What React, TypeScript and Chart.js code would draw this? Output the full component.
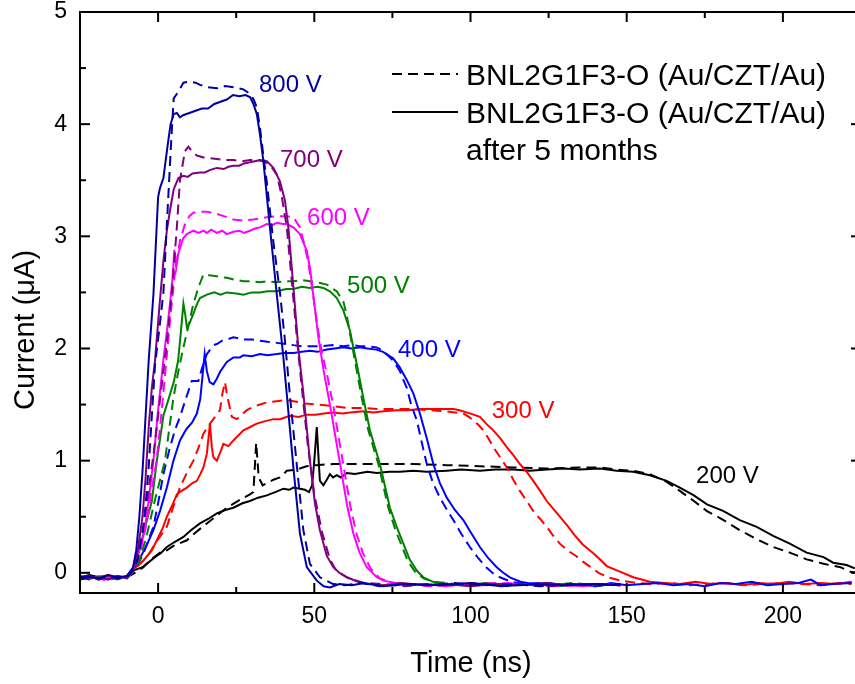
import React, { useEffect, useRef } from "react";
import { Chart, registerables } from "chart.js";

Chart.register(...registerables);

const FONT = "'Liberation Sans', Arial, Helvetica, sans-serif";

// axis ranges and ticks
const xRange = [-25, 225];
const yRange = [-0.18, 5];
const xTicks = [0, 50, 100, 150, 200];
const xMinor = [25, 75, 125, 175];
const yTicks = [0, 1, 2, 3, 4, 5];
const yMinor = [0.5, 1.5, 2.5, 3.5, 4.5];

const xTitle = "Time (ns)";
const yTitle = "Current (\u03bcA)";
const legendDashed = "BNL2G1F3-O (Au/CZT/Au)";
const legendSolid = ["BNL2G1F3-O (Au/CZT/Au)", "after 5 months"];

type P = [number, number][];

// 800 V
const s800: P = [[-25,-0.04],[-22,-0.03],[-19,-0.05],[-16,-0.02],[-13,-0.04],[-10,-0.03],[-8,0.05],[-7,0.2],[-6,0.5],[-5,0.9],[-4,1.4],[-3,1.9],[-1.5,2.48],[0,3.35],[0.6,3.43],[1.7,3.52],[3,3.8],[4,4.0],[5,4.09],[6,4.1],[7,4.06],[8,4.08],[10,4.1],[12,4.12],[14,4.14],[16,4.14],[18,4.18],[20,4.2],[22,4.22],[24,4.26],[26,4.25],[28,4.26],[29.5,4.24],[30.5,4.18],[31.6,4.09],[32.6,3.91],[33.7,3.67],[35.8,3.08],[38,2.48],[40,1.95],[41.5,1.5],[43.3,0.94],[45.4,0.35],[47.6,0.05],[50.8,-0.07],[53,-0.12],[55,-0.13],[58,-0.1],[62,-0.11],[66,-0.09],[72,-0.12],[80,-0.1],[90,-0.11],[100,-0.09],[110,-0.12],[120,-0.1],[130,-0.11],[140,-0.1],[148,-0.11]];
const d800: P = [[-25,-0.06],[-22,-0.04],[-19,-0.05],[-16,-0.03],[-13,-0.05],[-10,-0.04],[-8,0.02],[-6.5,0.12],[-5,0.35],[-4,0.6],[-3,0.95],[-2,1.4],[-1,1.85],[0.5,2.2],[1.7,2.5],[2.6,3.0],[3.3,3.37],[4,3.75],[4.5,4.0],[5,4.23],[6.5,4.29],[8.1,4.37],[10,4.38],[12,4.37],[13.4,4.35],[16,4.33],[18.8,4.32],[21.5,4.34],[24.1,4.33],[27.3,4.31],[29.4,4.27],[30.6,4.22],[31.6,4.15],[32.6,3.97],[33.7,3.72],[34.8,3.48],[36.9,2.95],[39,2.5],[40.5,2.1],[42.2,1.58],[44.4,0.96],[46.5,0.38],[48.6,0.08],[51.8,-0.04],[56,-0.1],[60,-0.11],[65,-0.09],[71,-0.12],[78,-0.1],[86,-0.11],[95,-0.09],[104,-0.11],[113,-0.1],[122,-0.12],[131,-0.1],[140,-0.11],[148,-0.1]];

// 700 V
const s700: P = [[-25,-0.03],[-22,-0.05],[-19,-0.04],[-16,-0.06],[-13,-0.03],[-10,-0.05],[-8,0.04],[-6.5,0.2],[-5,0.5],[-4,0.85],[-3,1.3],[-2,1.65],[-1,1.89],[0.5,2.4],[1.7,2.78],[2.8,3.05],[3.8,3.23],[5,3.42],[6.5,3.52],[8.1,3.54],[9.5,3.53],[11,3.56],[13.4,3.57],[15,3.57],[16.5,3.59],[18.8,3.61],[21,3.6],[22.5,3.62],[24.1,3.63],[26,3.63],[27.5,3.65],[29.4,3.66],[31,3.67],[32.6,3.68],[34.8,3.67],[36.9,3.61],[39,3.49],[40.6,3.32],[41.7,3.08],[43.3,2.55],[44.9,2.0],[46.5,1.6],[48.6,1.0],[50.2,0.62],[51.8,0.38],[54,0.15],[56.1,0.05],[58,0.0],[60.4,-0.04],[64,-0.08],[67,-0.1],[72,-0.11],[78,-0.09],[85,-0.11],[92,-0.1],[100,-0.12],[108,-0.1],[116,-0.11],[124,-0.09],[132,-0.11],[140,-0.1],[148,-0.11]];
const d700: P = [[-25,-0.05],[-22,-0.03],[-19,-0.06],[-16,-0.04],[-13,-0.05],[-10,-0.03],[-8,0.02],[-6,0.2],[-4.5,0.45],[-3,0.75],[-1.5,1.05],[0,1.4],[1.5,1.75],[2.8,2.05],[4.4,2.5],[6,3.08],[7,3.5],[8.6,3.76],[9.7,3.8],[11,3.75],[12.4,3.72],[15,3.7],[18.8,3.69],[21.5,3.68],[24.1,3.68],[27,3.67],[29.4,3.68],[31.5,3.68],[33.7,3.67],[35.8,3.64],[38,3.55],[39.5,3.37],[41.2,3.08],[42.7,2.63],[44.4,2.1],[46,1.65],[48,1.12],[50,0.7],[52.5,0.36],[55,0.12],[57,0.02],[61,-0.05],[66,-0.09],[72,-0.1],[79,-0.12],[86,-0.1],[94,-0.11],[102,-0.09],[110,-0.11],[118,-0.1],[126,-0.12],[134,-0.1],[142,-0.11],[148,-0.1]];

// 600 V
const s600: P = [[-25,-0.05],[-22,-0.03],[-19,-0.06],[-16,-0.04],[-13,-0.05],[-10,-0.03],[-8,0.03],[-6,0.2],[-4.5,0.35],[-3,0.65],[-1.5,1.0],[0,1.45],[1.7,1.9],[3,2.2],[4,2.45],[4.6,2.62],[5.2,2.88],[5.8,2.72],[6.5,2.85],[8,2.98],[9.2,3.02],[11.3,3.05],[13,3.03],[14.5,3.05],[15.6,3.03],[17,3.06],[18.8,3.03],[20.5,3.05],[22,3.02],[24.1,3.04],[26,3.05],[27.5,3.03],[29.4,3.05],[31,3.07],[32.6,3.08],[34.8,3.11],[36.5,3.1],[38,3.12],[40,3.11],[41.2,3.11],[43.3,3.08],[45.4,3.02],[47.6,2.87],[48.6,2.72],[50,2.4],[51.3,2.1],[53,1.8],[55,1.5],[58.2,0.98],[60.5,0.6],[62.5,0.35],[64.5,0.18],[66.8,0.05],[70,-0.04],[72.1,-0.07],[76,-0.09],[80,-0.11],[86,-0.1],[92,-0.12],[98,-0.1],[105,-0.11],[112,-0.09],[120,-0.11],[128,-0.1],[136,-0.12],[142,-0.1],[148,-0.11]];
const d600: P = [[-25,-0.06],[-22,-0.04],[-19,-0.05],[-16,-0.07],[-13,-0.04],[-10,-0.05],[-8,0.02],[-6,0.15],[-4,0.4],[-2,0.75],[-0.5,1.0],[1,1.4],[2.5,1.85],[4,2.3],[5.5,2.7],[7,2.96],[8.5,3.1],[10,3.18],[11.3,3.21],[13.5,3.22],[15.6,3.22],[18.8,3.2],[21,3.18],[24.1,3.15],[27.3,3.14],[30.5,3.15],[34.8,3.17],[38,3.18],[41.2,3.18],[43.3,3.17],[45.4,3.08],[46.5,2.96],[48,2.78],[49.5,2.5],[51,2.2],[52.5,1.95],[54,1.78],[56,1.5],[59.2,0.98],[61.5,0.6],[63.5,0.35],[65.5,0.18],[68,0.04],[71,-0.05],[75,-0.09],[80,-0.1],[87,-0.12],[94,-0.1],[101,-0.11],[108,-0.09],[115,-0.11],[122,-0.1],[130,-0.12],[138,-0.1],[148,-0.11]];

// 500 V
const s500: P = [[-25,-0.03],[-22,-0.05],[-19,-0.03],[-16,-0.04],[-13,-0.06],[-10,-0.03],[-8,0.04],[-6,0.2],[-4.7,0.35],[-2,0.64],[-0.4,1.0],[1.7,1.4],[3.8,1.59],[5,1.7],[6.4,1.89],[7.3,2.15],[8.1,2.4],[8.7,2.3],[9.2,2.19],[10,2.22],[11.3,2.31],[12.5,2.4],[13.4,2.45],[15.6,2.48],[18,2.5],[20,2.48],[22,2.5],[25,2.49],[27.3,2.48],[30,2.5],[32.6,2.5],[35,2.51],[38,2.51],[41,2.53],[43.3,2.53],[46,2.55],[48.6,2.54],[51,2.55],[52.9,2.54],[55,2.51],[57.2,2.45],[59.3,2.34],[61.4,2.16],[63.6,1.86],[65.7,1.56],[67.8,1.27],[71,0.97],[74.2,0.58],[76.5,0.4],[78.5,0.26],[80.5,0.12],[82.8,0.02],[84.9,-0.04],[88,-0.08],[92,-0.1],[98,-0.11],[105,-0.09],[112,-0.11],[120,-0.1],[128,-0.12],[136,-0.1],[142,-0.11],[148,-0.1]];
const d500: P = [[-25,-0.04],[-22,-0.03],[-19,-0.05],[-16,-0.03],[-13,-0.04],[-10,-0.05],[-8,0.02],[-6,0.1],[-3.5,0.35],[-1,0.65],[2.2,1.0],[4.9,1.56],[6.5,1.8],[8.1,2.01],[9.7,2.2],[11.3,2.4],[13,2.55],[14.5,2.66],[17,2.65],[19.5,2.64],[22,2.63],[25,2.61],[27.3,2.6],[30,2.6],[32.6,2.59],[35,2.6],[38,2.59],[41,2.6],[43.3,2.6],[46,2.61],[48.6,2.6],[51,2.59],[54,2.57],[56,2.53],[57.2,2.51],[58.5,2.45],[59.3,2.42],[60.5,2.28],[61.4,2.14],[63.2,1.86],[65.2,1.56],[67.3,1.27],[70.5,0.97],[73.7,0.58],[76,0.38],[78,0.24],[80,0.1],[82.5,0.0],[85,-0.05],[88,-0.08],[92,-0.09],[98,-0.11],[105,-0.1],[112,-0.12],[119,-0.1],[126,-0.11],[133,-0.09],[140,-0.11],[148,-0.1]];

// 400 V
const s400: P = [[-25,-0.05],[-22,-0.03],[-19,-0.04],[-16,-0.06],[-13,-0.03],[-10,-0.04],[-8,0.03],[-6,0.12],[-3.6,0.25],[-1.5,0.38],[0.6,0.55],[2.8,0.76],[4.9,1.0],[7,1.18],[9,1.28],[10.9,1.34],[12.4,1.42],[13.5,1.55],[14.2,1.75],[14.9,1.95],[15.6,1.8],[16.5,1.7],[17.7,1.68],[18.8,1.73],[19.8,1.79],[21,1.84],[22,1.88],[24.1,1.92],[26.2,1.92],[27.3,1.94],[30,1.93],[32.6,1.95],[35,1.94],[38,1.95],[40.5,1.96],[43.3,1.96],[46,1.97],[48.6,1.98],[51,1.97],[54,1.99],[56.5,2.0],[59.3,2.01],[62,2.0],[64.6,2.01],[67,2.0],[69.9,1.99],[72,1.97],[73.1,1.95],[75.3,1.91],[77.4,1.83],[79.6,1.72],[81.7,1.6],[83.8,1.42],[86,1.2],[88.1,0.97],[90.2,0.8],[92.4,0.67],[95,0.56],[97.7,0.47],[100.3,0.35],[103,0.23],[105.7,0.13],[108.4,0.05],[110.5,0.0],[112.6,-0.04],[116,-0.08],[120,-0.1],[125,-0.09],[130,-0.11],[135,-0.1],[140,-0.12],[145,-0.09],[150,-0.11],[155,-0.1],[160,-0.09],[165,-0.11],[170,-0.1],[175,-0.12],[180,-0.09],[185,-0.1],[190,-0.08],[195,-0.11],[200,-0.1],[205,-0.09],[209,-0.06],[212,-0.11],[216,-0.1],[222,-0.09]];
const d400: P = [[-25,-0.04],[-22,-0.06],[-19,-0.04],[-16,-0.05],[-13,-0.03],[-10,-0.05],[-8,0.02],[-6,0.1],[-4.7,0.17],[-3,0.3],[-1.5,0.41],[0,0.62],[1.7,0.88],[3.8,1.12],[5.5,1.28],[7,1.39],[8.5,1.52],[9.7,1.62],[10.8,1.71],[12.9,1.71],[14,1.82],[15.6,1.95],[17.7,2.03],[18.8,2.04],[20.5,2.07],[22,2.08],[24.1,2.1],[27.3,2.08],[30,2.08],[32.6,2.07],[35,2.06],[38,2.05],[41,2.04],[43.3,2.03],[46,2.02],[48.6,2.02],[52,2.02],[56,2.03],[59.3,2.02],[62,2.03],[64.6,2.02],[67,2.02],[69.9,2.01],[71.5,1.99],[73.1,1.95],[75.3,1.89],[77.4,1.8],[78.5,1.72],[79.6,1.65],[81,1.5],[82.8,1.36],[84.5,1.15],[86,0.97],[88,0.8],[90.2,0.67],[92.5,0.56],[94.5,0.47],[97,0.35],[99.8,0.23],[102.5,0.13],[105,0.05],[107,0.0],[109.4,-0.04],[113,-0.08],[117,-0.1],[122,-0.09],[128,-0.11],[134,-0.1],[140,-0.12],[146,-0.1],[150,-0.11]];

// 300 V
const s300: P = [[-25,-0.03],[-22,-0.05],[-19,-0.04],[-16,-0.02],[-13,-0.05],[-10,-0.03],[-8,0.03],[-4.7,0.11],[-2,0.2],[-0.4,0.29],[1.5,0.4],[2.8,0.5],[4.5,0.6],[6,0.7],[7.5,0.73],[9.2,0.76],[11,0.8],[12.4,0.82],[13.5,0.88],[14.5,0.94],[15.6,1.06],[16.2,1.22],[16.6,1.33],[17.2,1.12],[17.7,1.03],[18.8,1.0],[20,1.08],[20.9,1.15],[22.5,1.13],[24.1,1.18],[25.5,1.22],[27.3,1.27],[29.5,1.3],[31.6,1.33],[34,1.35],[36.9,1.37],[39,1.37],[42.2,1.4],[45,1.39],[47.5,1.41],[50.5,1.41],[53,1.42],[56.1,1.43],[59,1.42],[61.4,1.43],[65.7,1.44],[69,1.43],[72.1,1.44],[76.4,1.45],[80,1.45],[84,1.46],[87,1.46],[91,1.46],[94.5,1.46],[96.5,1.45],[98.7,1.43],[101,1.41],[103,1.39],[105,1.33],[107.3,1.27],[109.5,1.2],[111.6,1.12],[113.7,1.05],[115.8,0.97],[118,0.9],[120.1,0.82],[122.3,0.73],[124.4,0.64],[126.5,0.57],[128.6,0.5],[131,0.42],[133.5,0.33],[136,0.25],[139.5,0.17],[141.4,0.12],[143.6,0.06],[147.8,0.01],[152.1,-0.04],[157.4,-0.08],[162,-0.09],[167,-0.1],[172,-0.08],[177,-0.1],[182,-0.09],[187,-0.11],[192,-0.09],[197,-0.1],[202,-0.08],[207,-0.1],[212,-0.09],[217,-0.1],[222,-0.08]];
const d300: P = [[-25,-0.04],[-22,-0.03],[-19,-0.05],[-16,-0.04],[-13,-0.03],[-10,-0.05],[-8,0.02],[-3.6,0.14],[-0.5,0.28],[2.8,0.41],[5,0.6],[7,0.76],[9,0.88],[11.3,1.0],[13,1.12],[14.5,1.24],[16.6,1.33],[18.5,1.4],[19.8,1.45],[20.6,1.6],[21.4,1.7],[22,1.6],[22.5,1.53],[23.6,1.39],[25.2,1.37],[26.8,1.41],[28.4,1.45],[30.5,1.48],[32.6,1.5],[35,1.52],[38,1.53],[41,1.54],[43.3,1.53],[47,1.51],[50.7,1.5],[55,1.49],[60.4,1.47],[65,1.47],[71,1.46],[76,1.46],[81.7,1.46],[87,1.45],[92.4,1.44],[95,1.43],[97.7,1.42],[99.5,1.39],[100.9,1.36],[102.5,1.32],[104.1,1.27],[105.7,1.2],[107.3,1.12],[109.5,1.03],[111.6,0.94],[113.7,0.83],[115.8,0.73],[118,0.64],[120.1,0.55],[122.3,0.48],[124.4,0.41],[126.5,0.33],[128.6,0.26],[131,0.2],[133.8,0.15],[136,0.1],[138,0.06],[141,0.0],[144,-0.04],[148,-0.07],[153,-0.09],[158,-0.1],[164,-0.09],[170,-0.11],[176,-0.1],[182,-0.09],[188,-0.11],[194,-0.1],[200,-0.09],[206,-0.1],[212,-0.11],[218,-0.09],[222,-0.1]];

// 200 V
const s200: P = [[-25,-0.04],[-22,-0.02],[-19,-0.04],[-16,-0.03],[-13,-0.05],[-10,-0.03],[-8,0.02],[-5,0.05],[-3.6,0.08],[-1,0.14],[1,0.18],[2.8,0.23],[5,0.27],[8.1,0.32],[10.5,0.38],[13.4,0.44],[16,0.48],[18.8,0.53],[21.5,0.56],[24.1,0.58],[27,0.62],[29.4,0.64],[32,0.67],[34.8,0.69],[37.5,0.72],[40.1,0.75],[42,0.74],[43.3,0.76],[45.4,0.75],[47,0.74],[48.3,0.72],[49.3,0.78],[50,1.0],[50.8,1.3],[51.4,1.0],[51.8,0.82],[52.9,0.78],[54,0.83],[55,0.88],[56,0.85],[57.2,0.87],[58.5,0.85],[60.4,0.89],[63,0.88],[67,0.9],[70,0.89],[74,0.9],[77.4,0.9],[81.7,0.91],[86,0.9],[92.4,0.91],[97,0.92],[103,0.91],[108,0.92],[113.7,0.92],[119,0.91],[124.4,0.92],[130,0.93],[135,0.92],[141.4,0.93],[146.8,0.91],[152.1,0.9],[157.4,0.87],[162.8,0.82],[167,0.76],[171.5,0.69],[175.7,0.61],[181,0.55],[186.2,0.47],[191.6,0.41],[196.9,0.33],[202.2,0.26],[207.6,0.18],[213,0.14],[216.1,0.09],[220.4,0.07],[223,0.04]];
const d200: P = [[-25,-0.05],[-22,-0.04],[-19,-0.06],[-16,-0.03],[-13,-0.05],[-10,-0.04],[-8,-0.01],[-4.7,0.05],[-2.6,0.11],[0.6,0.18],[2.8,0.2],[4.9,0.24],[9.2,0.29],[12,0.36],[15.6,0.44],[18.8,0.51],[22,0.58],[25.5,0.64],[29.4,0.7],[30.5,0.72],[31.4,1.16],[32.2,0.85],[33.5,0.78],[34.8,0.8],[36.9,0.83],[39,0.85],[41.2,0.91],[44.4,0.92],[47.5,0.95],[50.7,0.96],[56.1,0.97],[60.4,0.97],[67,0.97],[71,0.97],[77.4,0.97],[81.7,0.97],[92.4,0.96],[103,0.95],[113.7,0.94],[124.4,0.93],[135,0.94],[141.4,0.94],[147,0.92],[152.1,0.91],[157.4,0.88],[162.8,0.81],[167,0.73],[171.5,0.64],[175.7,0.55],[181,0.47],[186.2,0.38],[191.6,0.3],[196.9,0.23],[202.2,0.18],[207.6,0.12],[213,0.08],[218.4,0.05],[221.6,0.01],[224,0.0]];

const voltages = ["800 V", "700 V", "600 V", "500 V", "400 V", "300 V", "200 V"];
const colors = ["#0000A0", "#800080", "#FF00FF", "#008000", "#0000FF", "#FF0000", "#000000"];
const solidSeries = [s800, s700, s600, s500, s400, s300, s200];
const dashedSeries = [d800, d700, d600, d500, d400, d300, d200];
// label anchors (time, current) for the voltage annotations
const labelAnchors: [number, number][] = [[32.3, 4.35], [39, 3.68], [47.7, 3.16], [60.5, 2.55], [76.8, 1.98], [106.8, 1.44], [172.2, 0.86]];

const DASH = [10, 6];

const overlay = {
  id: "overlay",
  afterDatasetsDraw(chart: any) {
    const { ctx, chartArea: a, scales } = chart;
    const xs = scales.x;
    const ys = scales.y;
    ctx.save();
    ctx.strokeStyle = "#000";
    ctx.lineWidth = 2;
    ctx.setLineDash([]);
    ctx.strokeRect(a.left, a.top, a.right - a.left, a.bottom - a.top);
    const seg = (x1: number, y1: number, x2: number, y2: number) => {
      ctx.beginPath();
      ctx.moveTo(x1, y1);
      ctx.lineTo(x2, y2);
      ctx.stroke();
    };
    const MAJ = 10, MIN = 6;
    xTicks.forEach((v) => { const p = xs.getPixelForValue(v); seg(p, a.bottom, p, a.bottom - MAJ); seg(p, a.top, p, a.top + MAJ); });
    xMinor.forEach((v) => { const p = xs.getPixelForValue(v); seg(p, a.bottom, p, a.bottom - MIN); seg(p, a.top, p, a.top + MIN); });
    yTicks.forEach((v) => { const p = ys.getPixelForValue(v); seg(a.left, p, a.left + MAJ, p); seg(a.right, p, a.right - MAJ, p); });
    yMinor.forEach((v) => { const p = ys.getPixelForValue(v); seg(a.left, p, a.left + MIN, p); seg(a.right, p, a.right - MIN, p); });

    // voltage labels
    ctx.font = `24px ${FONT}`;
    ctx.textAlign = "left";
    ctx.textBaseline = "middle";
    voltages.forEach((v, k) => {
      ctx.fillStyle = colors[k];
      ctx.fillText(v, xs.getPixelForValue(labelAnchors[k][0]), ys.getPixelForValue(labelAnchors[k][1]));
    });

    // legend
    ctx.strokeStyle = "#000";
    ctx.lineWidth = 2;
    ctx.setLineDash(DASH);
    seg(392, 74, 458, 74);
    ctx.setLineDash([]);
    seg(392, 112, 458, 112);
    ctx.fillStyle = "#000";
    ctx.font = `30px ${FONT}`;
    ctx.textBaseline = "alphabetic";
    ctx.fillText(legendDashed, 466, 85);
    ctx.fillText(legendSolid[0], 466, 123);
    ctx.fillText(legendSolid[1], 466, 160);

    // axis titles
    ctx.font = `29px ${FONT}`;
    ctx.textAlign = "center";
    ctx.fillText(xTitle, 471, 672);
    ctx.save();
    ctx.translate(26, 330);
    ctx.rotate(-Math.PI / 2);
    ctx.textBaseline = "middle";
    ctx.fillText(yTitle, 0, 0);
    ctx.restore();
    ctx.restore();
  },
};

export default function App() {
  const ref = useRef<HTMLCanvasElement | null>(null);
  useEffect(() => {
    document.body.style.margin = "0";
    const canvas = ref.current;
    if (!canvas) return;
    const datasets: any[] = [];
    voltages.forEach((v, k) => {
      datasets.push({
        label: v + " dashed",
        data: dashedSeries[k].map(([x, y]) => ({ x, y })),
        borderColor: colors[k],
        borderWidth: 2,
        borderDash: DASH,
        pointRadius: 0,
        fill: false,
        tension: 0,
      });
      datasets.push({
        label: v + " solid",
        data: solidSeries[k].map(([x, y]) => ({ x, y })),
        borderColor: colors[k],
        borderWidth: 2,
        pointRadius: 0,
        fill: false,
        tension: 0,
      });
    });
    const chart = new Chart(canvas, {
      type: "line",
      data: { datasets },
      options: {
        animation: false,
        responsive: false,
        devicePixelRatio: 1,
        layout: { padding: { top: 12, right: 9, left: 0, bottom: 0 } },
        plugins: { legend: { display: false }, tooltip: { enabled: false } },
        scales: {
          x: {
            type: "linear",
            min: xRange[0],
            max: xRange[1],
            grid: { display: false, drawTicks: false },
            border: { display: false },
            ticks: { font: { family: FONT, size: 23 }, color: "#000", padding: 10, maxRotation: 0 },
            afterBuildTicks: (s: any) => { s.ticks = xTicks.map((value) => ({ value })); },
            afterFit: (s: any) => { s.height = 91; s.paddingLeft = 0; s.paddingRight = 0; },
          },
          y: {
            type: "linear",
            min: yRange[0],
            max: yRange[1],
            grid: { display: false, drawTicks: false },
            border: { display: false },
            ticks: { font: { family: FONT, size: 23 }, color: "#000", padding: 13 },
            afterBuildTicks: (s: any) => { s.ticks = yTicks.map((value) => ({ value })); },
            afterFit: (s: any) => { s.width = 80; s.paddingTop = 0; s.paddingBottom = 0; },
          },
        },
      } as any,
      plugins: [overlay],
    });
    return () => chart.destroy();
  }, []);
  return (
    <div style={{ width: 855, height: 684, overflow: "hidden", position: "relative", background: "#fff" }}>
      <canvas ref={ref} width={870} height={684} style={{ width: 870, height: 684, display: "block" }} />
    </div>
  );
}
